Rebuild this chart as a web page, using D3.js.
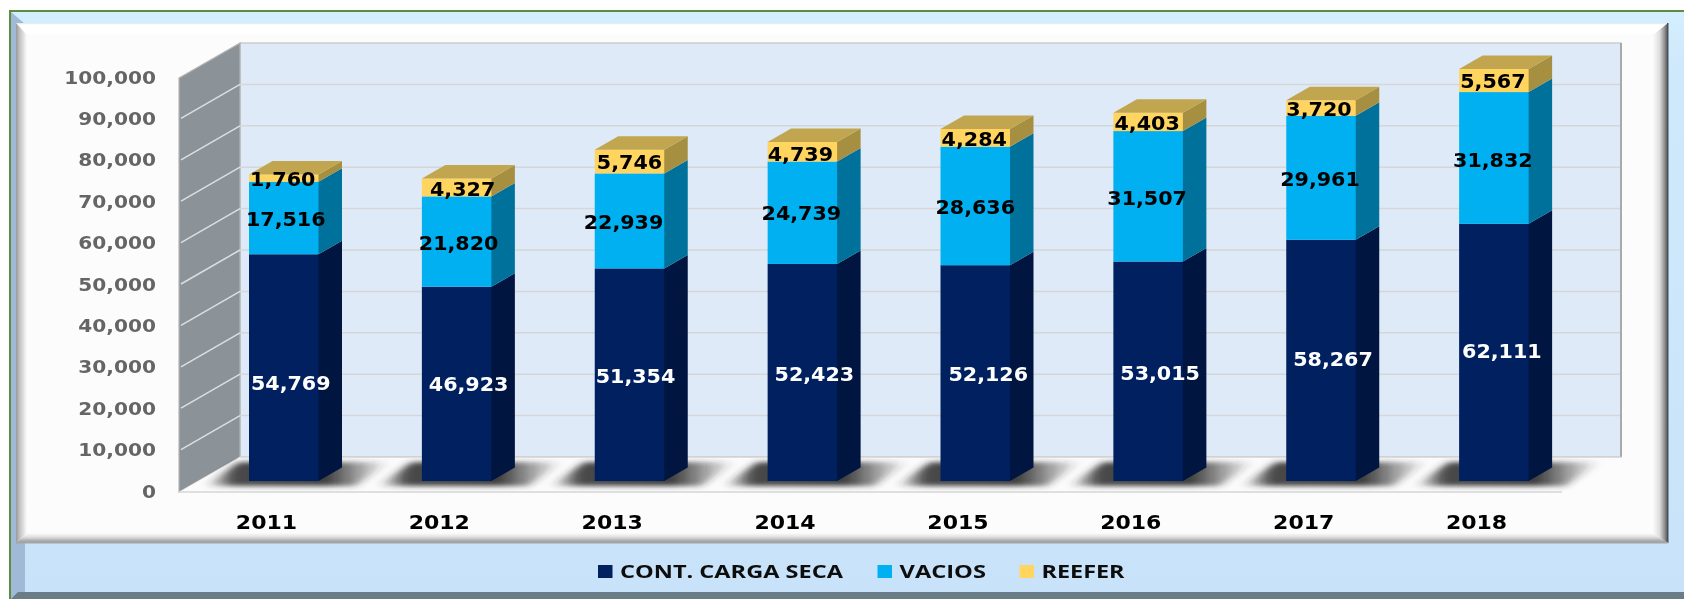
<!DOCTYPE html>
<html><head><meta charset="utf-8">
<script src="https://cdn.jsdelivr.net/npm/d3@7"></script>
<style>html,body{margin:0;padding:0;background:#fff;overflow:hidden}svg{display:block;filter:blur(.45px)}</style>
</head><body><svg id="c" width="1684" height="599"></svg>
<script>
const years=["2011","2012","2013","2014","2015","2016","2017","2018"];
const cargaSeca=[54769,46923,51354,52423,52126,53015,58267,62111];
const vacios=[17516,21820,22939,24739,28636,31507,29961,31832];
const reefer=[1760,4327,5746,4739,4284,4403,3720,5567];
const seriesNames=["CONT. CARGA SECA","VACIOS","REEFER"];
const yTicks=[0,10000,20000,30000,40000,50000,60000,70000,80000,90000,100000];

// label nudges from segment centre, in pixels
const nudgeCarga=[[7,15],[12,0],[6,1],[12,1.5],[13,1],[12,2],[12,-1],[8,-1]];
const nudgeVacios=[[2,1],[2,1],[-6,1],[-1,0],[0,1],[-1,2],[-1,1],[-1,2]];
const nudgeReefer=[[-1,1],[6,1.5],[0,.5],[-2,2],[-1,1],[-1,1.5],[-2,.5],[-1,0]];

const svg=d3.select("#c");
const defs=svg.append("defs");
function grad(id,x1,y1,x2,y2,stops){
  const g=defs.append("linearGradient").attr("id",id).attr("x1",x1).attr("y1",y1).attr("x2",x2).attr("y2",y2);
  stops.forEach(s=>{
    const st=g.append("stop").attr("offset",s[0]).attr("stop-color",s[1]);
    if(s[2]!==undefined) st.attr("stop-opacity",s[2]);
  });
}
grad("bg",0,0,0,1,[[0,"#d3eefe"],[.1,"#cfe9fc"],[1,"#c8e2f9"]]);
grad("bL",0,0,1,0,[[0,"#9a9a9a"],[.35,"#c4c4c4"],[1,"#fcfcfc"]]);
grad("bR",0,0,1,0,[[0,"#fcfcfc"],[.45,"#dcdcdc"],[.8,"#8a8a8a"],[1,"#4a4a4a"]]);
grad("bT",0,0,0,1,[[0,"#e4e4e4"],[.15,"#ffffff"],[.8,"#ffffff"],[1,"#fcfcfc"]]);
grad("bB",0,0,0,1,[[0,"#fcfcfc"],[.4,"#e0e0e0"],[.8,"#a8a8a8"],[1,"#9a9a9a"]]);
grad("shade",0,0,1,0,[[0,"#2a2a2a",0],[.16,"#2a2a2a",.85],[.66,"#2a2a2a",.9],[1,"#2a2a2a",0]]);
defs.append("filter").attr("id","blur").attr("x","-20%").attr("y","-60%").attr("width","140%").attr("height","220%")
  .append("feGaussianBlur").attr("stdDeviation","5 2.5");
defs.append("clipPath").attr("id","floorClip").append("rect").attr("x",179).attr("y",458).attr("width",1460).attr("height",33);

const poly=(pts,fill,p=svg)=>p.append("polygon").attr("points",pts.map(q=>q.join(",")).join(" ")).attr("fill",fill);

// frame
svg.append("rect").attr("x",9).attr("y",10).attr("width",1675).attr("height",589).attr("fill","#5f8b3f");
svg.append("rect").attr("x",11).attr("y",12).attr("width",1673).attr("height",587).attr("fill","url(#bg)");
poly([[11,12],[25,24],[25,592],[11,599]],"#9fb9d6");
poly([[11,599],[18,592],[1684,592],[1684,599]],"#6b7c89");

// panel with bevels
const P={l:16,t:23,r:1668,b:543};
svg.append("rect").attr("x",P.l).attr("y",P.t).attr("width",P.r-P.l).attr("height",P.b-P.t).attr("fill","#fcfcfc");
poly([[P.l,P.t],[P.r,P.t],[P.r-15,35],[P.l+11,35]],"url(#bT)");
poly([[P.l,P.b],[P.r,P.b],[P.r-15,533],[P.l+11,533]],"url(#bB)");
poly([[P.l,P.t],[P.l+11,35],[P.l+11,533],[P.l,P.b]],"url(#bL)");
poly([[P.r,P.t],[P.r-15,35],[P.r-15,533],[P.r,P.b]],"url(#bR)");
svg.append("rect").attr("x",P.r-1).attr("y",P.t).attr("width",1.5).attr("height",P.b-P.t).attr("fill","#4a5058");
svg.append("rect").attr("x",P.l).attr("y",P.b-1).attr("width",P.r-P.l).attr("height",1.5).attr("fill","#a5a5a5");

// scales
const D=d3.scaleLinear().domain([0,100000]);
const yFront=D.copy().range([492,78]);
const yBack=D.copy().range([457,43]);
const yBar=D.copy().range([481,67]);
const x=d3.scaleBand().domain(years).range([179,1562]);
const barOff=70, barW=x.bandwidth()*.402, depX=23.5, depY=13.5;
const backX=240, frontX=179, wallR=1621;

// walls
const wallTop=yBack(100000), wallBase=yBack(0);
svg.append("rect").attr("x",backX).attr("y",wallTop).attr("width",wallR-backX).attr("height",wallBase-wallTop)
  .attr("fill","#deeaf8").attr("stroke","#c4c4c4").attr("stroke-width",1.2);
svg.append("line").attr("x1",wallR).attr("x2",wallR).attr("y1",wallTop).attr("y2",wallBase).attr("stroke","#a9a9a9").attr("stroke-width",2);
poly([[frontX,yFront(100000)],[backX,wallTop],[backX,wallBase],[frontX,yFront(0)]],"#8b9399")
  .attr("stroke","#b5b5b5").attr("stroke-width",1.2);
poly([[backX,wallBase],[wallR,wallBase],[1562,yFront(0)],[frontX,yFront(0)]],"#fbfbfb");
svg.append("line").attr("x1",backX).attr("x2",wallR).attr("y1",wallBase).attr("y2",wallBase).attr("stroke","#d2d2d2").attr("stroke-width",1.5);
svg.append("line").attr("x1",frontX).attr("x2",1562).attr("y1",yFront(0)).attr("y2",yFront(0)).attr("stroke","#d6d6d6").attr("stroke-width",1.5);

// gridlines
const mid=yTicks.filter(t=>t>0&&t<100000);
svg.selectAll(".gb").data(mid).join("line").attr("x1",backX).attr("x2",wallR-1)
  .attr("y1",d=>yBack(d)).attr("y2",d=>yBack(d)).attr("stroke","#d6d6d6").attr("stroke-width",1.5);
svg.selectAll(".gs").data(mid).join("line").attr("x1",frontX+2).attr("x2",backX)
  .attr("y1",d=>yFront(d)-1).attr("y2",d=>yBack(d)).attr("stroke","#dcdfe2").attr("stroke-width",1.5);

// floor shadows
const sh=svg.append("g").attr("clip-path","url(#floorClip)").append("g").attr("filter","url(#blur)");
years.forEach(y=>{
  const bx=x(y)+barOff;
  poly([[bx-44,486],[bx-10,462],[bx+140,462],[bx+106,486]],"url(#shade)",sh);
});

// stacked bars
const layers=[
 {v:cargaSeca,front:"#002060",side:"#00153f"},
 {v:vacios,front:"#00b0f0",side:"#00719b"},
 {v:reefer,front:"#ffd55f",side:"#a78f42"}];
const bars=svg.append("g");
years.forEach((yr,i)=>{
  const L=x(yr)+barOff,R=L+barW; let acc=0;
  layers.forEach(l=>{
    const y0=yBar(acc),y1=yBar(acc+l.v[i]); acc+=l.v[i];
    poly([[R-1,y0],[R,y0],[R+depX,y0-depY],[R+depX,y1-depY],[R,y1],[R-1,y1]],l.side,bars);
    bars.append("rect").attr("x",L).attr("y",y1).attr("width",barW).attr("height",y0-y1).attr("fill",l.front);
  });
  const yt=yBar(acc);
  poly([[L,yt],[R,yt],[R+depX,yt-depY],[L+depX,yt-depY]],"#c1a64f",bars);
});

// axes
const FONT="'DejaVu Sans',sans-serif";
const yAxis=svg.append("g").attr("transform",`translate(${frontX},0)`)
  .call(d3.axisLeft(yFront).tickValues(yTicks).tickSize(0).tickPadding(23).tickFormat(d3.format(",")));
yAxis.select(".domain").remove();
yAxis.selectAll("text").attr("font-family",FONT).attr("font-weight",700).attr("font-size",18.5).attr("fill","#656565")
  .attr("x",-23/1.09).attr("transform","scale(1.09,1)").attr("dy",".28em");
const xAxis=svg.append("g").attr("transform","translate(0,492)")
  .call(d3.axisBottom(x).tickSize(0).tickPadding(0));
xAxis.select(".domain").remove();
xAxis.selectAll(".tick text").each(function(){
  d3.select(this).attr("font-family",FONT).attr("font-weight",700).attr("font-size",20).attr("fill","#000")
    .attr("y",0).attr("dy","37px").attr("transform","scale(1.1,1)");
});
xAxis.selectAll(".tick").each(function(){
  const cx=+d3.select(this).attr("transform").match(/translate\(([\d.]+)/)[1];
  d3.select(this).attr("transform",`translate(${cx+1},0)`);
});

// value labels
const labels=svg.append("g").attr("font-family",FONT).attr("font-weight",700).attr("font-size",19.5).attr("text-anchor","middle");
const fmt=d3.format(",");
function addLabels(vals,below,nudge,color){
  vals.forEach((v,i)=>{
    const cx=x(years[i])+barOff+barW/2+nudge[i][0];
    const cy=yBar(below(i)+v/2)+nudge[i][1];
    labels.append("text").attr("transform",`translate(${cx},${cy}) scale(1.06,1)`).attr("dy",".36em").attr("fill",color).text(fmt(v));
  });
}
addLabels(cargaSeca,()=>0,nudgeCarga,"#ffffff");
addLabels(vacios,i=>cargaSeca[i],nudgeVacios,"#000000");
addLabels(reefer,i=>cargaSeca[i]+vacios[i],nudgeReefer,"#000000");

// legend
const legendX=[598,877.5,1019.5], legendColors=layers.map(l=>l.front), legendW=[223,86.5,83];
const legend=svg.append("g");
seriesNames.forEach((n,i)=>{
  legend.append("rect").attr("x",legendX[i]).attr("y",565).attr("width",14.5).attr("height",13).attr("fill",legendColors[i]);
  legend.append("text").attr("x",legendX[i]+22).attr("y",571.5).attr("dy",".36em")
    .attr("textLength",legendW[i]).attr("lengthAdjust","spacingAndGlyphs")
    .attr("font-family","'Open Sans',sans-serif").attr("font-weight",700).attr("font-size",18.5).attr("fill","#0d0d0d").text(n);
});
</script></body></html>
